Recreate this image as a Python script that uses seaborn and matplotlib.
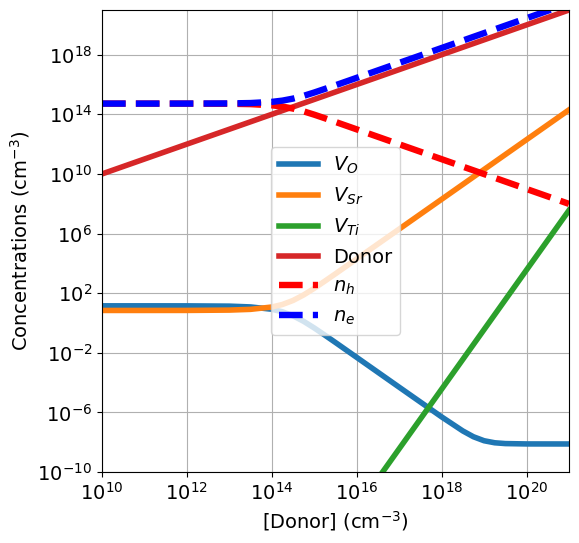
import numpy as np
import pandas as pd
import matplotlib
matplotlib.use("Agg")
import matplotlib.pyplot as plt
import seaborn as sns
from matplotlib.ticker import FixedLocator, LogFormatterSciNotation, NullLocator

# log10 of [Donor] (cm^-3)
log_donor = [10, 11, 12, 13, 13.5, 14, 14.25, 14.5, 14.75, 15, 15.25, 15.5,
             16, 17, 18, 18.5, 18.75, 19, 19.25, 19.5, 20, 21]

# log10 of concentrations
log_VO = [1.15, 1.15, 1.148, 1.13, 1.076, 0.92, 0.75, 0.48, 0.108, -0.338, -0.82, -1.312,
          -2.31, -4.31, -6.303, -7.247, -7.636, -7.903, -8.039, -8.093, -8.117, -8.12]
log_VSr = [0.84, 0.84, 0.842, 0.864, 0.914, 1.07, 1.24, 1.51, 1.882, 2.328, 2.81, 3.302,
           4.30, 6.30, 8.30, 9.30, 9.80, 10.30, 10.80, 11.30, 12.30, 14.30]
log_VTi = [-19.36, -19.36, -19.36, -19.31, -19.21, -18.9, -18.56, -18.02, -17.28, -16.38, -15.42, -14.44,
           -12.44, -8.44, -4.44, -2.44, -1.44, -0.44, 0.56, 1.56, 3.56, 7.56]
log_Donor = [10, 11, 12, 13, 13.5, 14, 14.25, 14.5, 14.75, 15, 15.25, 15.5,
             16, 17, 18, 18.5, 18.75, 19, 19.25, 19.5, 20, 21]
log_nh = [14.72, 14.72, 14.719, 14.708, 14.683, 14.605, 14.52, 14.385, 14.199, 13.976, 13.735, 13.489,
          12.99, 11.99, 10.99, 10.49, 10.24, 9.99, 9.74, 9.49, 8.99, 7.99]
log_ne = [14.72, 14.72, 14.721, 14.732, 14.757, 14.835, 14.92, 15.055, 15.241, 15.464, 15.705, 15.951,
          16.45, 17.45, 18.45, 18.95, 19.2, 19.45, 19.7, 19.95, 20.45, 21.45]

xticks_exp = [10, 12, 14, 16, 18, 20]
yticks_exp = [-10, -6, -2, 2, 6, 10, 14, 18]

x = 10.0 ** np.array(log_donor)
series = [
    (r"$V_O$", log_VO, "tab:blue", "-", 4),
    (r"$V_{Sr}$", log_VSr, "tab:orange", "-", 4),
    (r"$V_{Ti}$", log_VTi, "tab:green", "-", 4),
    ("Donor", log_Donor, "tab:red", "-", 4),
    (r"$n_h$", log_nh, "red", "--", 4.6),
    (r"$n_e$", log_ne, "blue", "--", 4.6),
]

fig = plt.figure(figsize=(5.79, 5.43), dpi=100)
ax = fig.add_axes([102/579, 1-472/543, (569-102)/579, (472-10)/543])

for label, vals, color, ls, lw in series:
    df = pd.DataFrame({"x": x, "y": 10.0 ** np.array(vals)})
    sns.lineplot(data=df, x="x", y="y", ax=ax, color=color, linestyle=ls,
                 linewidth=lw, label=label, sort=False)

ax.set_xscale("log")
ax.set_yscale("log")
ax.set_xlim(1e10, 1e21)
ax.set_ylim(1e-10, 1e21)
ax.xaxis.set_major_locator(FixedLocator([10.0 ** e for e in xticks_exp]))
ax.yaxis.set_major_locator(FixedLocator([10.0 ** e for e in yticks_exp]))
ax.xaxis.set_major_formatter(LogFormatterSciNotation())
ax.yaxis.set_major_formatter(LogFormatterSciNotation())
ax.xaxis.set_minor_locator(NullLocator())
ax.yaxis.set_minor_locator(NullLocator())
ax.tick_params(labelsize=14)
ax.grid(True, color="#b0b0b0", linewidth=0.8)
ax.set_axisbelow("line")
ax.set_xlabel(r"[Donor] (cm$^{-3}$)", fontsize=14)
ax.set_ylabel(r"Concentrations (cm$^{-3}$)", fontsize=14)
ax.legend(loc="center", fontsize=14)

fig.savefig("out.png", dpi=100)
